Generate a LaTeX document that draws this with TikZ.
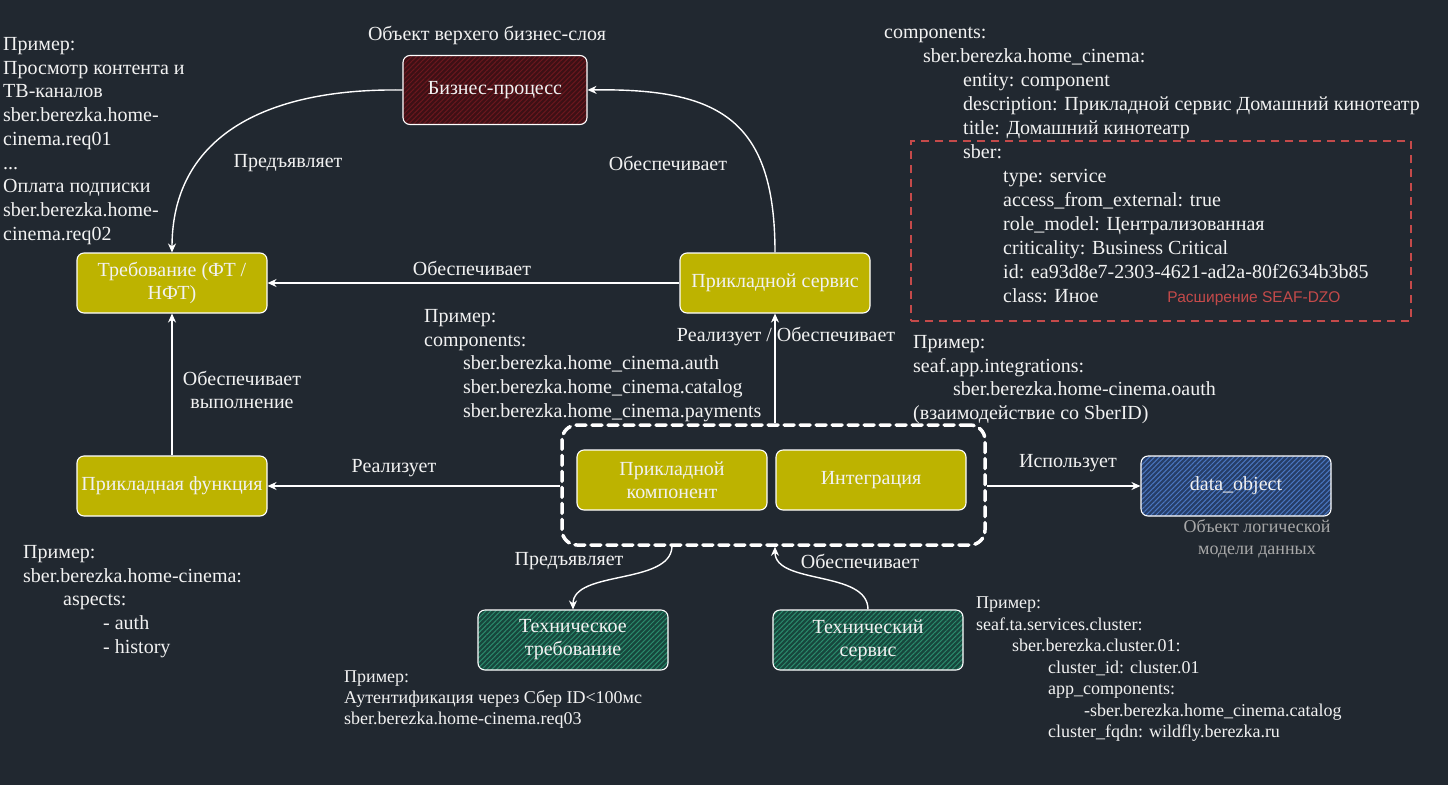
\documentclass[tikz,border=0pt]{standalone}
\usepackage{fontspec}
\setmainfont{Liberation Serif}
\newfontfamily\arialfont{Liberation Sans}
\usetikzlibrary{arrows.meta,patterns.meta}

\definecolor{bgc}{HTML}{212830}
\definecolor{olive}{HTML}{BDB300}
\definecolor{redfill}{HTML}{3E1015}
\definecolor{redline}{HTML}{6A171E}
\definecolor{greenfill}{HTML}{17473D}
\definecolor{greenline}{HTML}{2B8A6C}
\definecolor{bluefill}{HTML}{263E68}
\definecolor{blueline}{HTML}{4A76C0}
\definecolor{extred}{HTML}{C44A4A}
\definecolor{captgray}{HTML}{A8A8A8}
\definecolor{txt}{HTML}{F2F2F2}

\begin{document}
\begin{tikzpicture}[x=1pt,y=-1pt,
  box/.style={draw=white, line width=1.1pt, rounded corners=7pt,
    minimum width=190pt, minimum height=60pt, align=center, text=txt,
    font=\fontsize{20}{23}\selectfont, inner sep=1pt},
  olivebox/.style={box, fill=olive},
  hatchbox/.style 2 args={box, preaction={fill=#1},
    pattern={Lines[angle=45,distance=3.5pt,line width=1pt]}, pattern color=#2},
  arr/.style={draw=white, line width=1.4pt, -{Stealth[length=9pt,width=8pt]}},
  lbl/.style={text=txt, font=\fontsize{20}{23}\selectfont, inner sep=0pt, align=center},
  note/.style={text=txt, font=\fontsize{20}{23.75}\selectfont, align=left,
    anchor=north west, inner sep=0pt},
  smallnote/.style={note, font=\fontsize{18}{21.5}\selectfont},
  grpbox/.style={draw=white, line width=3.5pt, rounded corners=15pt,
    dash pattern=on 10pt off 6pt, line cap=round,
    minimum width=423pt, minimum height=120pt},
  extbox/.style={draw=extred, line width=2pt, dash pattern=on 8pt off 6pt,
    minimum width=500pt, minimum height=180pt}
]
% canvas
\fill[bgc] (0,0) rectangle (1448,785);
\useasboundingbox (0,0) rectangle (1448,785);

% main elements
\node[hatchbox={redfill}{redline}, minimum width=184pt, minimum height=69pt] (bp) at (495,90) {Бизнес-процесс};
\node[olivebox] (req) at (172,283) {Требование (ФТ /\\ НФТ)};
\node[olivebox] (svc) at (775,283) {Прикладной сервис};
\node[olivebox] (fn) at (172,486) {Прикладная функция};
\node[grpbox] (grp) at (773.5,485) {};
\node[olivebox] (comp) at (672,480) {Прикладной\\ компонент};
\node[olivebox] (integ) at (871,480) {Интеграция};
\node[hatchbox={bluefill}{blueline}] (dobj) at (1236,486) {data\_object};
\node[hatchbox={greenfill}{greenline}] (treq) at (573,640) {Техническое\\ требование};
\node[hatchbox={greenfill}{greenline}] (tsvc) at (868,640) {Технический\\ сервис};

% extension frame
\node[extbox] (ext) at (1161,231) {};
\node[text=extred, font=\arialfont\fontsize{15.5}{18}\selectfont, inner sep=0pt] (extlbl) at (1254,299) {Расширение SEAF-DZO};

% connectors
\draw[arr] (bp.west) .. controls (260,88) and (172,140) .. (req.north);
\draw[arr] (svc.north) .. controls (775,120) and (720,88) .. (bp.east);
\draw[arr] (svc.west) -- (req.east);
\draw[arr] (fn.north) -- (req.south);
\draw[arr] (grp.north -| svc.south) -- (svc.south);
\draw[arr] (grp.west |- fn.east) -- (fn.east);
\draw[arr] (grp.east |- dobj.west) -- (dobj.west);
\draw[arr] (grp.south -| comp.south) .. controls (670,585) and (573,570) .. (treq.north);
\draw[arr] (tsvc.north) .. controls (868,570) and (775,585) .. (grp.south -| svc.south);

% connector labels
\node[lbl] (l1) at (288,163) {Предъявляет};
\node[lbl] (l2) at (668,163) {Обеспечивает};
\node[lbl] (l3) at (472,268) {Обеспечивает};
\node[lbl] (l4) at (242,390) {Обеспечивает\\ выполнение};
\node[lbl] (l5) at (786,336) {Реализует / Обеспечивает};
\node[lbl] (l6) at (394,468) {Реализует};
\node[lbl] (l7) at (1068,463) {Использует};
\node[lbl] (l8) at (569,561) {Предъявляет};
\node[lbl] (l9) at (860,561) {Обеспечивает};

% captions
\node[lbl] (cap1) at (487,35) {Объект верхего бизнес-слоя};
\node[lbl, text=captgray, font=\fontsize{18}{22}\selectfont] (cap2) at (1257,539) {Объект логической\\ модели данных};

% examples
\node[note] (ex1) at (3,33.5) {\strut Пример:\\ Просмотр контента и\\ ТВ-каналов\\ sber.berezka.home-\\ cinema.req01\\ ...\\ Оплата подписки\\ sber.berezka.home-\\ cinema.req02};

\node[note, font=\fontsize{20}{24}\selectfont] (ex2) at (884,21) {\strut components:\\
\hspace*{39pt}sber.berezka.home\_cinema:\\
\hspace*{79pt}entity: component\\
\hspace*{79pt}description: Прикладной сервис Домашний кинотеатр\\
\hspace*{79pt}title: Домашний кинотеатр\\
\hspace*{79pt}sber:\\
\hspace*{119pt}type: service\\
\hspace*{119pt}access\_from\_external: true\\
\hspace*{119pt}role\_model: Централизованная\\
\hspace*{119pt}criticality: Business Critical\\
\hspace*{119pt}id: ea93d8e7-2303-4621-ad2a-80f2634b3b85\\
\hspace*{119pt}class: Иное};

\node[note] (ex3) at (424,305.5) {\strut Пример:\\ components:\\
\hspace*{39pt}sber.berezka.home\_cinema.auth\\
\hspace*{39pt}sber.berezka.home\_cinema.catalog\\
\hspace*{39pt}sber.berezka.home\_cinema.payments};

\node[note] (ex4) at (913,331.5) {\strut Пример:\\ seaf.app.integrations:\\
\hspace*{40pt}sber.berezka.home-cinema.oauth\\
(взаимодействие со SberID)};

\node[note] (ex5) at (23,541.5) {\strut Пример:\\ sber.berezka.home-cinema:\\
\hspace*{40pt}aspects:\\
\hspace*{80pt}- auth\\
\hspace*{80pt}- history};

\node[smallnote, font=\fontsize{18}{21}\selectfont] (ex6) at (344,667.5) {\strut Пример:\\ Аутентификация через Сбер ID<100мс\\ sber.berezka.home-cinema.req03};

\node[smallnote] (ex7) at (976,593.5) {\strut Пример:\\ seaf.ta.services.cluster:\\
\hspace*{36pt}sber.berezka.cluster.01:\\
\hspace*{72pt}cluster\_id: cluster.01\\
\hspace*{72pt}app\_components:\\
\hspace*{108pt}-sber.berezka.home\_cinema.catalog\\
\hspace*{72pt}cluster\_fqdn: wildfly.berezka.ru};
\end{tikzpicture}
\end{document}
